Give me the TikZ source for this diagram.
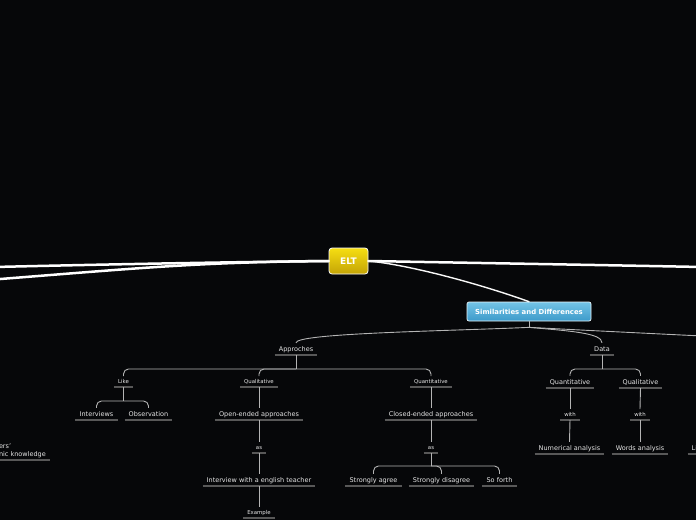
\documentclass[tikz,border=0pt]{standalone}
\usepackage{fontspec}
\setmainfont{DejaVu Sans}
\definecolor{MapBg}{HTML}{060709}
\definecolor{MapText}{HTML}{E6E6E6}
\definecolor{MapLine}{HTML}{B4B4B4}
\definecolor{MapRule}{HTML}{585858}
\definecolor{RootTop}{HTML}{F6DE12}
\definecolor{RootBot}{HTML}{C4A406}
\definecolor{SubTop}{HTML}{74C4E6}
\definecolor{SubBot}{HTML}{3C9ACA}

\begin{document}
\begin{tikzpicture}[x=1pt, y=-1pt,
    rule/.style={draw=MapRule, line width=1.6pt},
    topic/.style={text=MapText, font=\fontsize{6.5}{8}\selectfont,
        inner xsep=4pt, inner ysep=2.3pt, text height=5.7pt, text depth=1.5pt, anchor=south,
        append after command={(\tikzlastnode.south west) edge[rule] (\tikzlastnode.south east)}},
    tag/.style={topic, font=\fontsize{5.4}{6.5}\selectfont, text height=4.5pt},
    note/.style={text=MapText, font=\fontsize{6.5}{8}\selectfont, align=left,
        inner xsep=4pt, inner ysep=2.3pt,
        append after command={(\tikzlastnode.south west) edge[rule] (\tikzlastnode.south east)}},
    rootbox/.style={draw=white, line width=0.8pt, rounded corners=3pt,
        top color=RootTop, bottom color=RootBot, text=white,
        font=\bfseries\fontsize{9}{10}\selectfont,
        minimum width=39pt, minimum height=26pt, inner sep=0pt},
    subbox/.style={draw=white!85!SubTop, line width=0.7pt, rounded corners=2pt,
        top color=SubTop, bottom color=SubBot, text=white,
        font=\bfseries\fontsize{6.9}{8}\selectfont,
        minimum width=124pt, minimum height=19pt, inner sep=0pt},
    link/.style={draw=MapLine, line width=0.9pt, rounded corners=5pt},
    mainlink/.style={draw=white, line width=2.5pt, line cap=round},
]
\useasboundingbox (0,0) rectangle (696,520);
\fill[MapBg] (0,0) rectangle (696,520);
\clip (0,0) rectangle (696,520);

% ends of the branches that run out of the picture
\coordinate (offleft) at (-6,267);
\coordinate (offlow) at (-6,279.5);
\coordinate (offright) at (702,267);
\coordinate (offside) at (702,336);

\node[rootbox] (elt) at (348.5,261) {ELT};
\node[subbox] (sim) at (529,311.5) {Similarities and Differences};

\draw[mainlink] (elt.west) .. controls (240,262) and (120,264) .. (offleft);
\draw[mainlink] (elt.west) .. controls (200,262) and (140,268) .. (offlow);
\draw[mainlink] (elt.east) .. controls (480,263) and (600,265) .. (offright);
\draw[mainlink, draw=white!90!MapLine, line width=1.4pt] (elt.east) .. controls (410,265) and (480,284) .. (sim.north);

% approaches
\node[topic] (appr) at (296,355) {Approches};
\node[tag] (like) at (123.5,387) {Like};
\node[tag] (qual) at (259,387) {Qualitative};
\node[tag] (quant) at (431,387) {Quantitative};
\node[topic] (intv) at (96.5,420) {Interviews};
\node[topic] (obs) at (148.5,420) {Observation};
\node[topic] (open) at (259,420) {Open-ended approaches};
\node[topic] (closed) at (431,420) {Closed-ended approaches};
\node[tag] (oas) at (259,453) {as};
\node[tag] (cas) at (431,453) {as};
\node[topic] (intw) at (259,486) {Interview with a english teacher};
\node[tag] (example) at (259,518) {Example};
\node[topic] (agree) at (373.5,486) {Strongly agree};
\node[topic] (disagree) at (441.5,486) {Strongly disagree};
\node[topic] (forth) at (499.5,486) {So forth};

% data
\node[topic] (data) at (602,355) {Data};
\node[topic] (dquant) at (570,388) {Quantitative};
\node[topic] (dqual) at (640.5,388) {Qualitative};
\node[tag] (with1) at (570,420) {with};
\node[tag] (with2) at (640,420) {with};
\node[topic] (num) at (569.5,454) {Numerical analysis};
\node[topic] (words) at (640,454) {Words analysis};

\node[note, anchor=south east] (knowl) at (50,460) {ers'\\nic knowledge};
\node[topic, anchor=south west] (li) at (687.5,454) {Li};

\draw[link] (sim.south) -- ++(0,6) coordinate (simfork);
\draw[link] (simfork) .. controls (450,331) and (296,333) .. (appr.north);
\draw[link] (simfork) .. controls (570,331) and (602,333) .. (data.north);
\draw[link] (simfork) .. controls (600,331) .. (offside);

\draw[link] (appr.south) -- ++(0,14) coordinate (apprfork);
\draw[link] (apprfork) -| (like.north);
\draw[link] (apprfork) -| (qual.north);
\draw[link] (apprfork) -| (quant.north);

\draw[link] (like.south) -- ++(0,14) coordinate (likefork);
\draw[link] (likefork) -| (intv.north);
\draw[link] (likefork) -| (obs.north);

\draw[link] (qual.south) -- (open.north);
\draw[link] (open.south) -- (oas.north);
\draw[link] (oas.south) -- (intw.north);
\draw[link] (intw.south) -- (example.north);

\draw[link] (quant.south) -- (closed.north);
\draw[link] (closed.south) -- (cas.north);
\draw[link] (cas.south) -- ++(0,13) coordinate (casfork);
\draw[link] (casfork) -| (agree.north);
\draw[link] (casfork) -| (disagree.north);
\draw[link] (casfork) -| (forth.north);

\draw[link] (data.south) -- ++(0,14) coordinate (datafork);
\draw[link] (datafork) -| (dquant.north);
\draw[link] (datafork) -| (dqual.north);
\draw[link] (dquant.south) -- (with1.north);
\draw[link] (with1.south) -- (num.north);
\draw[link] (dqual.south) -- (with2.north);
\draw[link] (with2.south) -- (words.north);
\end{tikzpicture}
\end{document}
